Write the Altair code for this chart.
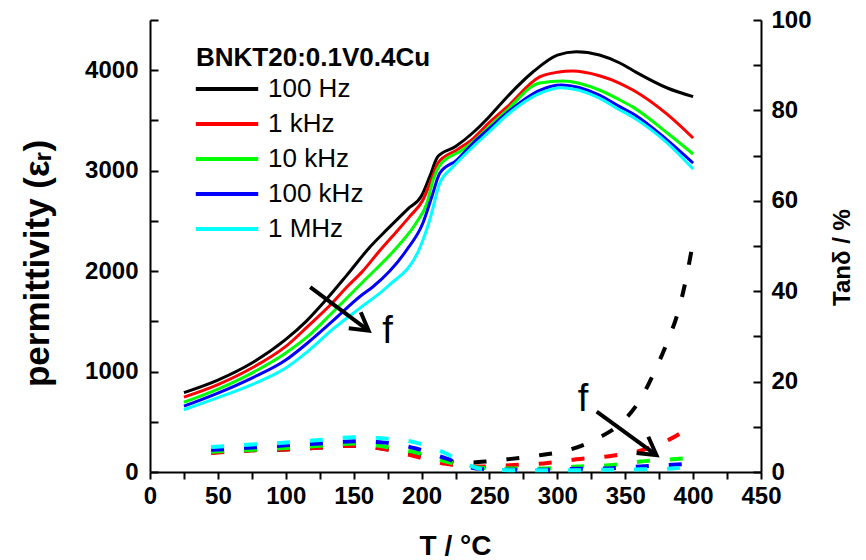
import altair as alt
import pandas as pd

FREQS = ["100 Hz", "1 kHz", "10 kHz", "100 kHz", "1 MHz"]
COLORS = ["#000000", "#ff0000", "#00ff00", "#0000ff", "#00ffff"]

# ---- permittivity (solid lines) ----
eps_T_100Hz = [25, 50, 75, 100, 115, 130, 145, 162, 175, 190, 200, 206, 212, 225, 238, 250, 263, 282, 300, 314, 331, 346, 356, 381, 400]
eps_V_100Hz = [790, 915, 1085, 1320, 1500, 1720, 1960, 2240, 2420, 2620, 2750, 2940, 3140, 3240, 3380, 3540, 3734, 3982, 4150, 4185, 4152, 4072, 3995, 3823, 3737]
eps_T_1kHz = [25, 50, 75, 100, 116, 134, 145, 156, 169, 182, 191, 201, 208, 212, 226, 238, 250, 263, 287, 300, 311, 331, 346, 356, 381, 400]
eps_V_1kHz = [745, 870, 1035, 1250, 1447, 1680, 1842, 1990, 2200, 2400, 2540, 2708, 2937, 3076, 3206, 3320, 3480, 3634, 3933, 3980, 3992, 3945, 3870, 3800, 3560, 3325]
eps_T_10kHz = [25, 50, 75, 100, 116, 134, 156, 182, 196, 204, 208.5, 213.5, 230, 238, 250, 263, 287, 304, 331, 346, 356, 381, 400]
eps_V_10kHz = [695, 825, 985, 1185, 1347, 1583, 1882, 2240, 2479, 2678, 2907, 3056, 3206, 3290, 3440, 3604, 3873, 3893, 3803, 3704, 3630, 3375, 3166]
eps_T_100kHz = [25, 50, 75, 100, 116, 134, 156, 164, 189, 201, 207.5, 213.5, 226, 238, 250, 263, 287, 303, 331, 346, 356, 381, 400]
eps_V_100kHz = [655, 785, 935, 1115, 1284, 1497, 1762, 1842, 2210, 2479, 2738, 2977, 3106, 3275, 3420, 3577, 3800, 3853, 3753, 3637, 3565, 3305, 3076]
eps_T_1MHz = [25, 50, 75, 100, 116, 134, 156, 174.5, 199, 206, 213.5, 223, 238, 250, 263, 287, 303, 331, 346, 356, 381, 400]
eps_V_1MHz = [620, 740, 870, 1035, 1198, 1414, 1646, 1842, 2240, 2509, 2877, 3036, 3240, 3390, 3554, 3770, 3826, 3723, 3604, 3530, 3275, 3017]

# ---- tan delta (dashed lines) ----
tan_T_100Hz = [45, 75, 100, 125, 150, 173, 196, 218, 235, 250, 263, 287, 310, 330, 348, 362, 372, 382, 389, 395, 400]
tan_V_100Hz = [4.3, 4.8, 5.0, 5.4, 5.8, 5.1, 3.9, 2.5, 2.1, 2.4, 2.8, 3.7, 5.0, 7.5, 11.1, 16.5, 22.5, 29.5, 35.5, 43.0, 51.0]
tan_T_1kHz = [45, 75, 100, 125, 150, 173, 196, 218, 240, 265, 290, 314, 338, 361, 382, 400]
tan_V_1kHz = [4.2, 4.8, 5.0, 5.4, 5.8, 5.0, 3.4, 1.8, 1.2, 1.5, 1.9, 2.8, 3.5, 4.7, 7.1, 10.4]
tan_T_10kHz = [45, 75, 100, 125, 150, 173, 196, 218, 240, 265, 290, 314, 338, 361, 385, 400]
tan_V_10kHz = [4.5, 4.9, 5.3, 5.8, 6.3, 5.6, 4.3, 2.3, 1.0, 0.8, 0.8, 1.2, 1.5, 2.3, 2.8, 3.2]
tan_T_100kHz = [45, 75, 100, 125, 150, 173, 196, 218, 240, 265, 290, 314, 338, 361, 385, 400]
tan_V_100kHz = [4.9, 5.4, 5.9, 6.3, 6.8, 6.5, 5.2, 3.0, 0.8, 0.5, 0.5, 0.7, 0.8, 1.2, 1.6, 1.9]
tan_T_1MHz = [45, 75, 100, 125, 150, 173, 196, 218, 232, 245, 265, 290, 314, 338, 361, 385, 400]
tan_V_1MHz = [5.5, 6.1, 6.5, 7.1, 7.7, 7.4, 6.5, 4.1, 1.9, 0.6, 0.4, 0.4, 0.4, 0.5, 0.6, 0.8, 1.2]

# ---- annotations (arrows with "f") ----
arrow_T_start = [118, 329]
arrow_V_start = [1840, 600]
arrow_T_end = [161, 373]
arrow_V_end = [1407, 169]
arrow_angle = [37, 36]
label_T = [175, 319]
label_V = [1394, 717]
label_text = ["f", "f"]

LEGEND_TITLE = "BNKT20:0.1V0.4Cu"
X_TITLE = "T / °C"
Y_LEFT_TITLE = "permittivity (εᵣ)"
Y_RIGHT_TITLE = "Tanδ / %"

FONT = "Liberation Sans"
W, H = 611, 452

eps_sets = [(eps_T_100Hz, eps_V_100Hz), (eps_T_1kHz, eps_V_1kHz), (eps_T_10kHz, eps_V_10kHz),
            (eps_T_100kHz, eps_V_100kHz), (eps_T_1MHz, eps_V_1MHz)]
tan_sets = [(tan_T_100Hz, tan_V_100Hz), (tan_T_1kHz, tan_V_1kHz), (tan_T_10kHz, tan_V_10kHz),
            (tan_T_100kHz, tan_V_100kHz), (tan_T_1MHz, tan_V_1MHz)]

rows = []
for i, (f, (ts, vs)) in enumerate(zip(FREQS, eps_sets)):
    for t, v in zip(ts, vs):
        rows.append({"T": t, "value": v, "freq": f, "order": i})
eps_df = pd.DataFrame(rows)

rows = []
for i, (f, (ts, vs)) in enumerate(zip(FREQS, tan_sets)):
    for t, v in zip(ts, vs):
        rows.append({"T": t, "value": v, "freq": f, "order": i})
tan_df = pd.DataFrame(rows)

arrow_df = pd.DataFrame({"T": arrow_T_start, "value": arrow_V_start,
                         "T2": arrow_T_end, "value2": arrow_V_end, "angle": arrow_angle})
label_df = pd.DataFrame({"T": label_T, "value": label_V, "text": label_text})

x_scale = alt.Scale(domain=[0, 450], nice=False, zero=False)
eps_scale = alt.Scale(domain=[0, 4500], nice=False, zero=False)
tan_scale = alt.Scale(domain=[0, 100], nice=False, zero=False)
color_scale = alt.Scale(domain=FREQS, range=COLORS)

x_axis = alt.Axis(
    values=list(range(0, 451, 25)),
    labelExpr="datum.value % 50 == 0 ? datum.label : ''",
    format="d", grid=False, tickSize=7, tickWidth=2, domainWidth=2,
    tickColor="black", domainColor="black",
    labelFont=FONT, labelFontSize=24, labelFontWeight="bold", labelColor="black",
    labelPadding=5, labelFlush=False, labelOverlap=False,
    title=X_TITLE, titleFont=FONT, titleFontSize=28, titleFontWeight="bold",
    titleColor="black", titleX=305, titleY=74, titleAlign="center", titleBaseline="middle",
)

left_axis = alt.Axis(
    orient="right", offset=-W,
    values=list(range(0, 4501, 500)),
    labelExpr="datum.value % 1000 == 0 ? datum.label : ''",
    format="d", grid=False, tickSize=8, tickWidth=2, domainWidth=2,
    tickColor="black", domainColor="black",
    labelFont=FONT, labelFontSize=24, labelFontWeight="bold", labelColor="black",
    labelAlign="right", labelBaseline="middle", labelPadding=-20,
    labelOverlap=False, labelFlush=False,
    title=Y_LEFT_TITLE, titleFont=FONT, titleFontSize=35, titleFontWeight="bold",
    titleColor="black", titleAngle=270, titleX=-113, titleY=243,
    titleAlign="center", titleBaseline="middle",
)

right_axis = alt.Axis(
    orient="left", offset=-W,
    values=list(range(0, 101, 10)),
    labelExpr="datum.value % 20 == 0 ? datum.label : ''",
    format="d", grid=False, tickSize=8, tickWidth=2, domainWidth=2,
    tickColor="black", domainColor="black",
    labelFont=FONT, labelFontSize=24, labelFontWeight="bold", labelColor="black",
    labelAlign="left", labelBaseline="middle", labelPadding=-18,
    labelOverlap=False, labelFlush=False,
    title=Y_RIGHT_TITLE, titleFont=FONT, titleFontSize=24, titleFontWeight="bold",
    titleColor="black", titleAngle=270, titleX=81, titleY=237,
    titleAlign="center", titleBaseline="middle",
)

legend = alt.Legend(
    orient="none", legendX=46, legendY=25, title=LEGEND_TITLE,
    titleFont=FONT, titleFontSize=26, titleFontWeight="bold", titleColor="black",
    titlePadding=3, titleLimit=400,
    labelFont=FONT, labelFontSize=26, labelColor="black", labelOffset=26,
    symbolType="M -2.4 0 L 2.4 0", symbolSize=676, symbolStrokeWidth=4,
    symbolOffset=16, symbolFillColor="transparent",
    rowPadding=7, padding=0,
)

x_enc = alt.X("T:Q", scale=x_scale, axis=x_axis)

eps_lines = alt.Chart(eps_df).mark_line(strokeWidth=3, interpolate="monotone").encode(
    x=x_enc,
    y=alt.Y("value:Q", scale=eps_scale, axis=left_axis),
    color=alt.Color("freq:N", scale=color_scale, sort=FREQS, legend=legend),
    detail="order:O",
    order=alt.Order("T:Q"),
)

tan_lines = alt.Chart(tan_df).mark_line(strokeWidth=4, strokeDash=[13, 20], interpolate="monotone").encode(
    x=x_enc,
    y=alt.Y("value:Q", scale=tan_scale, axis=right_axis),
    color=alt.Color("freq:N", scale=color_scale, sort=FREQS, legend=None),
    detail="order:O",
    order=alt.Order("T:Q"),
)

arrow_lines = alt.Chart(arrow_df).mark_rule(strokeWidth=4, color="black").encode(
    x=x_enc,
    y=alt.Y("value:Q", scale=eps_scale, axis=None),
    x2="T2:Q",
    y2="value2:Q",
)

arrow_heads = alt.Chart(arrow_df).mark_point(
    shape="M -0.866 -0.5 L 0 0 L -0.866 0.5", filled=False, strokeWidth=4,
    color="black", size=1600, opacity=1,
).encode(
    x=alt.X("T2:Q", scale=x_scale, axis=x_axis),
    y=alt.Y("value2:Q", scale=eps_scale, axis=None),
    angle=alt.Angle("angle:Q", scale=None),
)

f_text = alt.Chart(label_df).mark_text(
    font=FONT, fontSize=38, color="black", align="center", baseline="middle"
).encode(
    x=x_enc,
    y=alt.Y("value:Q", scale=eps_scale, axis=None),
    text="text:N",
)

chart = alt.layer(eps_lines, tan_lines, arrow_lines, arrow_heads, f_text).resolve_scale(
    y="independent"
).properties(
    width=W, height=H,
    autosize=alt.AutoSizeParams(type="none"),
    padding={"left": 150, "top": 20, "right": 105, "bottom": 88},
    background="white",
).configure_view(stroke=None)

chart.save("out.html", embed_options={"renderer": "svg", "actions": False})
